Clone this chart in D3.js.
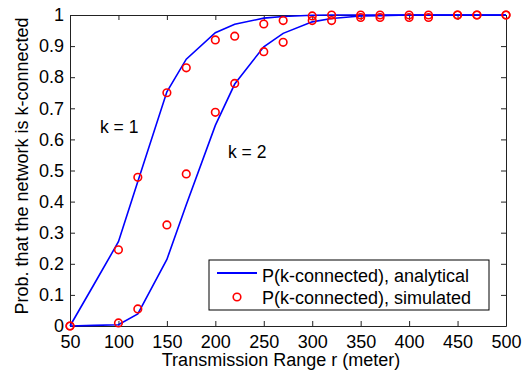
<!DOCTYPE html>
<html>
<head>
<meta charset="utf-8">
<script src="https://cdn.jsdelivr.net/npm/d3@7"></script>
<style>
  body { margin: 0; background: #fff; }
  svg text { font-family: "Liberation Sans", Arial, sans-serif; fill: #000; }
</style>
</head>
<body>
<div id="chart"></div>
<script>
// transmission range values (meter)
const rAnalytical = [50, 75, 100, 120, 150, 170, 200, 220, 250, 270, 300, 320, 350, 370, 400, 450, 500];
const k1Analytical = [0, 0.135, 0.271, 0.465, 0.753, 0.858, 0.943, 0.97, 0.99, 0.995, 0.999, 1, 1, 1, 1, 1, 1];
const k2Analytical = [0, 0.002, 0.004, 0.039, 0.214, 0.39, 0.645, 0.778, 0.898, 0.941, 0.978, 0.989, 0.997, 0.998, 1, 1, 1];

const rSimulated = [50, 100, 120, 150, 170, 200, 220, 250, 270, 300, 320, 350, 370, 400, 420, 450, 470, 500];
const k1Simulated = [0, 0.245, 0.478, 0.75, 0.83, 0.92, 0.932, 0.971, 0.982, 0.997, 1, 1, 1, 1, 1, 1, 1, 1];
const k2Simulated = [0, 0.01, 0.055, 0.325, 0.489, 0.687, 0.78, 0.882, 0.912, 0.982, 0.982, 0.992, 0.992, 0.992, 0.992, 1, 1, 1];

const xTicks = [50, 100, 150, 200, 250, 300, 350, 400, 450, 500];
const yTicks = [0, 0.1, 0.2, 0.3, 0.4, 0.5, 0.6, 0.7, 0.8, 0.9, 1];
const legendLabels = ["P(k-connected), analytical", "P(k-connected), simulated"];

const width = 532, height = 372;
const margin = { top: 15, right: 26, bottom: 46, left: 70 };
const w = width - margin.left - margin.right;
const h = height - margin.top - margin.bottom;
const fontSize = "18px";

const svg = d3.select("#chart").append("svg")
  .attr("width", width)
  .attr("height", height);

const g = svg.append("g")
  .attr("transform", `translate(${margin.left},${margin.top})`);

// Scales
const x = d3.scaleLinear().domain([50, 500]).range([0, w]);
const y = d3.scaleLinear().domain([0, 1]).range([h, 0]);

// Axes (ticks point inward, box on all sides)
const tickLen = 5;
const fmtY = (d) => (d === 0 ? "0" : d === 1 ? "1" : d3.format(".1f")(d));

const xAxis = g.append("g")
  .attr("transform", `translate(0,${h})`)
  .call(d3.axisBottom(x).tickValues(xTicks).tickSizeInner(-tickLen).tickSizeOuter(0).tickPadding(9));
const xTop = g.append("g")
  .call(d3.axisTop(x).tickValues(xTicks).tickSizeInner(-tickLen).tickSizeOuter(0).tickFormat(""));
const yAxis = g.append("g")
  .call(d3.axisLeft(y).tickValues(yTicks).tickSizeInner(-tickLen).tickSizeOuter(0).tickPadding(6).tickFormat(fmtY));
const yRight = g.append("g")
  .attr("transform", `translate(${w},0)`)
  .call(d3.axisRight(y).tickValues(yTicks).tickSizeInner(-tickLen).tickSizeOuter(0).tickFormat(""));

[xAxis, xTop, yAxis, yRight].forEach((a) => {
  a.selectAll("path, line").attr("stroke", "#222").attr("stroke-width", 1);
  a.selectAll("text").style("font-size", fontSize);
});

// Lines
const line = d3.line()
  .x((d) => x(d[0]))
  .y((d) => y(d[1]));

[k1Analytical, k2Analytical].forEach((vals) => {
  g.append("path")
    .datum(rAnalytical.map((r, i) => [r, vals[i]]))
    .attr("fill", "none")
    .attr("stroke", "#0000ff")
    .attr("stroke-width", 1.6)
    .attr("d", line);
});

// Simulated points
[k1Simulated, k2Simulated].forEach((vals) => {
  g.selectAll(null)
    .data(rSimulated.map((r, i) => [r, vals[i]]))
    .enter()
    .append("circle")
    .attr("cx", (d) => x(d[0]))
    .attr("cy", (d) => y(d[1]))
    .attr("r", 3.8)
    .attr("fill", "none")
    .attr("stroke", "#ff0000")
    .attr("stroke-width", 1.6);
});

// Curve annotations
svg.append("text").attr("x", 100).attr("y", 133).style("font-size", "17.5px").text("k = 1");
svg.append("text").attr("x", 228).attr("y", 158).style("font-size", "17.5px").text("k = 2");

// Legend
const legend = svg.append("g").attr("transform", "translate(209,260)");
legend.append("rect")
  .attr("width", 280).attr("height", 50)
  .attr("fill", "#fff").attr("stroke", "#000").attr("stroke-width", 1);
legend.append("line")
  .attr("x1", 8).attr("x2", 48).attr("y1", 13).attr("y2", 13)
  .attr("stroke", "#0000ff").attr("stroke-width", 2);
legend.append("circle")
  .attr("cx", 28).attr("cy", 37).attr("r", 3.8)
  .attr("fill", "none").attr("stroke", "#ff0000").attr("stroke-width", 1.6);
legend.selectAll("text.lbl")
  .data(legendLabels)
  .enter()
  .append("text")
  .attr("class", "lbl")
  .attr("x", 53)
  .attr("y", (d, i) => 21.5 + i * 22.5)
  .style("font-size", fontSize)
  .text((d) => d);

// Axis labels
svg.append("text")
  .attr("x", 281)
  .attr("y", 366)
  .style("text-anchor", "middle")
  .style("font-size", fontSize)
  .text("Transmission Range r (meter)");

svg.append("text")
  .attr("transform", "rotate(-90)")
  .attr("x", -166)
  .attr("y", 28)
  .style("text-anchor", "middle")
  .style("font-size", fontSize)
  .text("Prob. that the network is k-connected");
</script>
</body>
</html>
